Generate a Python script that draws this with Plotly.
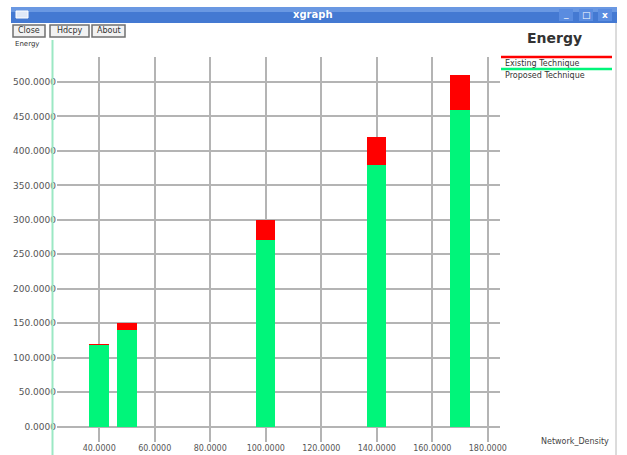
import plotly.graph_objects as go

# ---- data ----
network_density = [40, 50, 100, 140, 170]
existing_energy = [120, 150, 300, 420, 510]
proposed_energy = [118, 140, 270, 380, 460]
series_names = ["Existing Technique", "Proposed Technique"]
series_colors = ["#ff0000", "#00f57a"]
chart_title = "Energy"
y_label = "Energy"
x_label = "Network_Density"
x_ticks = [40, 60, 80, 100, 120, 140, 160, 180]
y_ticks = [0, 50, 100, 150, 200, 250, 300, 350, 400, 450, 500]

W, H = 627, 455
L, R, T, B = 57, 500, 57, 442


def px(x):
    return (x - L) / (R - L)


def py(y):
    return (B - y) / (B - T)


fig = go.Figure()
fig.add_trace(go.Bar(x=network_density, y=existing_energy, name=series_names[0],
                     marker=dict(color=series_colors[0], line=dict(width=0)), width=7))
fig.add_trace(go.Bar(x=network_density, y=proposed_energy, name=series_names[1],
                     marker=dict(color=series_colors[1], line=dict(width=0)), width=7))

font = "DejaVu Sans, Liberation Sans, sans-serif"
shapes = []
annotations = []


def note(x, y, text, size, color="#333333", xanchor="center", bold=False):
    annotations.append(dict(x=px(x), y=py(y), xref="paper", yref="paper",
                            text=f"<b>{text}</b>" if bold else text,
                            xanchor=xanchor, yanchor="middle", showarrow=False,
                            font=dict(family=font, size=size, color=color)))


# window title bar
shapes.append(dict(type="rect", xref="paper", yref="paper", x0=px(11), x1=px(617), y0=py(7), y1=py(23),
                   fillcolor="#4479d2", line=dict(width=0), layer="above"))
shapes.append(dict(type="rect", xref="paper", yref="paper", x0=px(11), x1=px(617), y0=py(7), y1=py(12),
                   fillcolor="#6a98e2", line=dict(width=0), layer="above"))
shapes.append(dict(type="rect", xref="paper", yref="paper", x0=px(16), x1=px(28), y0=py(11), y1=py(18),
                   fillcolor="#dfe8f8", line=dict(color="#ffffff", width=1), layer="above"))
for bx in (566, 586, 605):
    shapes.append(dict(type="rect", xref="paper", yref="paper", x0=px(bx - 7), x1=px(bx + 7), y0=py(9), y1=py(21),
                       fillcolor="#5a8ce0", line=dict(width=0), layer="above"))
note(313, 15, "xgraph", 10, "#ffffff", bold=True)
note(566, 14, "_", 9, "#ffffff")
note(586, 15, "□", 9, "#ffffff")
note(605, 15, "x", 9, "#ffffff", bold=True)

# buttons
for label, x0, x1 in (("Close", 13, 45), ("Hdcpy", 50, 89), ("About", 92, 125)):
    shapes.append(dict(type="rect", xref="paper", yref="paper", x0=px(x0), x1=px(x1), y0=py(25), y1=py(37),
                       fillcolor="#f2f2f2", line=dict(color="#707070", width=1.5), layer="above"))
    note((x0 + x1) / 2, 31, label, 8, "#333333")

# left green line and right border
shapes.append(dict(type="line", xref="paper", yref="paper", x0=px(52.5), x1=px(52.5), y0=py(40), y1=py(455),
                   line=dict(color="#9be8c4", width=2), layer="above"))
shapes.append(dict(type="line", xref="paper", yref="paper", x0=px(616), x1=px(616), y0=py(23), y1=py(455),
                   line=dict(color="#b8b8b8", width=1), layer="above"))

# y axis label, title, x axis label
note(13, 44, y_label, 7, "#333333", xanchor="left")
note(554, 38, chart_title, 14, "#333333", bold=True)
note(611, 441, x_label, 8, "#444444", xanchor="right")

# legend
for i, (name, col) in enumerate(zip(series_names, series_colors)):
    ly = 57 + i * 12
    shapes.append(dict(type="line", xref="paper", yref="paper", x0=px(501), x1=px(612), y0=py(ly), y1=py(ly),
                       line=dict(color=col, width=2.5), layer="above"))
    note(503, ly + 6, name, 8, "#333333", xanchor="left")

fig.update_layout(
    width=W, height=H,
    margin=dict(l=L, r=W - R, t=T, b=H - B, autoexpand=False),
    paper_bgcolor="white", plot_bgcolor="white",
    barmode="overlay", showlegend=False, bargap=0,
    shapes=shapes, annotations=annotations,
    xaxis=dict(range=[24.8, 184.4], tickvals=x_ticks, ticktext=[f"{v:.4f}" for v in x_ticks],
               showgrid=True, gridcolor="#b4b4b4", gridwidth=1.5, zeroline=False, showline=False,
               ticks="", tickfont=dict(family=font, size=8, color="#555555"), automargin=False),
    yaxis=dict(range=[-22.5, 536.3], tickvals=y_ticks, ticktext=[f"{v:.4f}" for v in y_ticks],
               showgrid=True, gridcolor="#b4b4b4", gridwidth=1.5, zeroline=False, showline=False,
               ticks="", tickfont=dict(family=font, size=9, color="#555555"), automargin=False),
)

fig.write_html("out.html")
